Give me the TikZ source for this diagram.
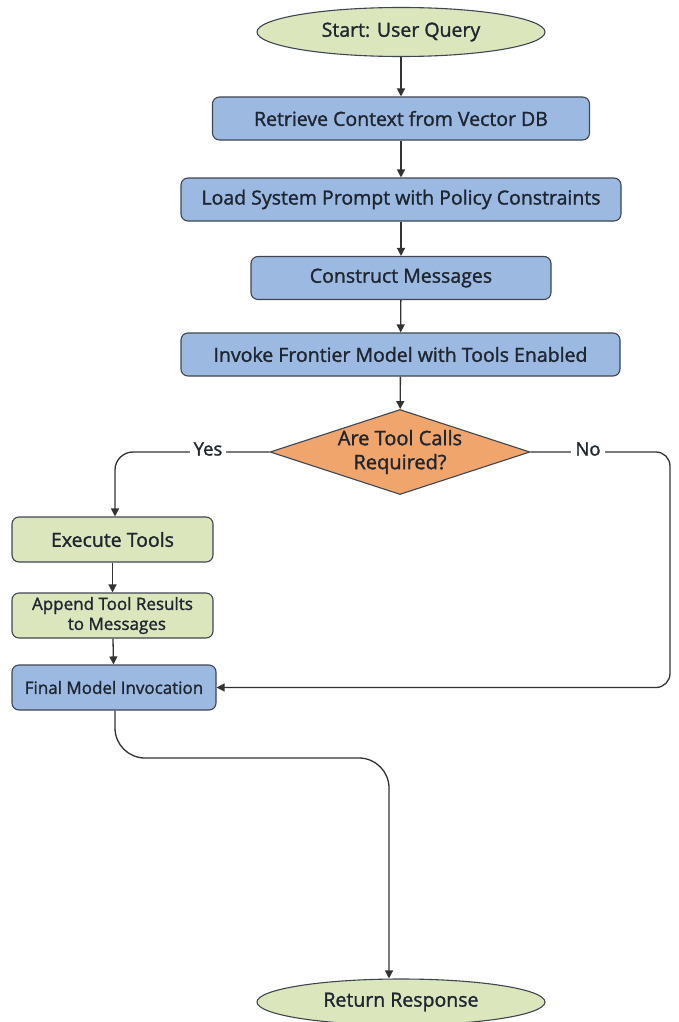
\documentclass[tikz,border=0pt]{standalone}
\usepackage{fontspec}
\setmainfont{Open Sans}[FakeBold=1.4]
\newfontfamily\semib{Open Sans}[FakeBold=1.4]
\usetikzlibrary{shapes.geometric,arrows.meta}
\definecolor{edge}{HTML}{3E4650}
\definecolor{blueF}{HTML}{9CB9E2}
\definecolor{greenF}{HTML}{DCE6BC}
\definecolor{orangeF}{HTML}{F0A56C}
\definecolor{txt}{HTML}{1E2630}
\definecolor{line}{HTML}{333333}
\begin{document}
\begin{tikzpicture}[x=1pt,y=-1pt,
  base/.style={draw=edge, line width=1.1pt, text=txt, font=\semib\fontsize{19.5}{23}\selectfont, inner sep=2pt},
  box/.style={base, rectangle, rounded corners=7pt, fill=blueF, minimum height=43pt},
  gbox/.style={box, fill=greenF},
  term/.style={base, ellipse, fill=greenF, minimum width=288pt, minimum height=49pt, inner sep=0pt},
  dec/.style={base, diamond, fill=orangeF, minimum width=260pt, minimum height=85pt, inner sep=0pt},
  dtext/.style={text=txt, align=center, font=\semib\fontsize{20}{24}\selectfont, inner sep=0pt},
  small/.style={font=\semib\fontsize{17}{20}\selectfont},
  conn/.style={draw=line, line width=1.3pt, -{Triangle[length=8pt,width=8pt]}},
  lbl/.style={fill=white, text=txt, font=\semib\fontsize{18.5}{22}\selectfont, inner sep=4pt}
]
\useasboundingbox (0,0) rectangle (678,1022);

\node[term] (start) at (401,32) {Start: User Query};
\node[box, minimum width=377pt] (retr) at (401,118.5) {Retrieve Context from Vector DB};
\node[box, minimum width=440pt] (load) at (401,199.5) {Load System Prompt with Policy Constraints};
\node[box, minimum width=300pt] (cons) at (401,278) {Construct Messages};
\node[box, minimum width=439pt] (inv) at (400.5,354.5) {Invoke Frontier Model with Tools Enabled};
\node[dec] (dec) at (400,452) {};
\node[dtext] (dectxt) at (400,452) {Are Tool Calls\\Required?};
\node[gbox, minimum width=201pt, minimum height=45pt] (exec) at (112.5,539.5) {Execute Tools};
\node[gbox, small, minimum width=201pt, minimum height=45pt, align=center] (app) at (112.5,615.5) {Append Tool Results\\\ \ to Messages};
\node[box, small, minimum width=204pt, minimum height=45pt] (fin) at (114,687.5) {Final Model Invocation};
\node[term, minimum height=46pt] (ret) at (401,1002) {Return Response};

\coordinate (ycorner) at (115,452);
\coordinate (ncorner) at (670,452);
\coordinate (ndown) at (670,687.5);
\coordinate (fmid) at (115,758);
\coordinate (rmid) at (389,758);

\draw[conn] (start) -- (retr);
\draw[conn] (retr) -- (load);
\draw[conn] (load) -- (cons);
\draw[conn] (cons) -- (inv);
\draw[conn] (inv) -- (dec);
\draw[conn, rounded corners=18pt] (dec.west) -- (ycorner) -- (exec.north -| ycorner);
\draw[conn, rounded corners=14pt] (dec.east) -- (ncorner) -- (ndown) -- (fin.east);
\draw[conn] (exec) -- (app);
\draw[conn] (app) -- (fin);
\draw[conn, rounded corners=30pt] (fin.south -| fmid) -- (fmid) -- (rmid) -- (rmid |- ret.north);
\node[lbl] (yes) at (208,449) {Yes};
\node[lbl] (no) at (588,449) {No};
\end{tikzpicture}
\end{document}
